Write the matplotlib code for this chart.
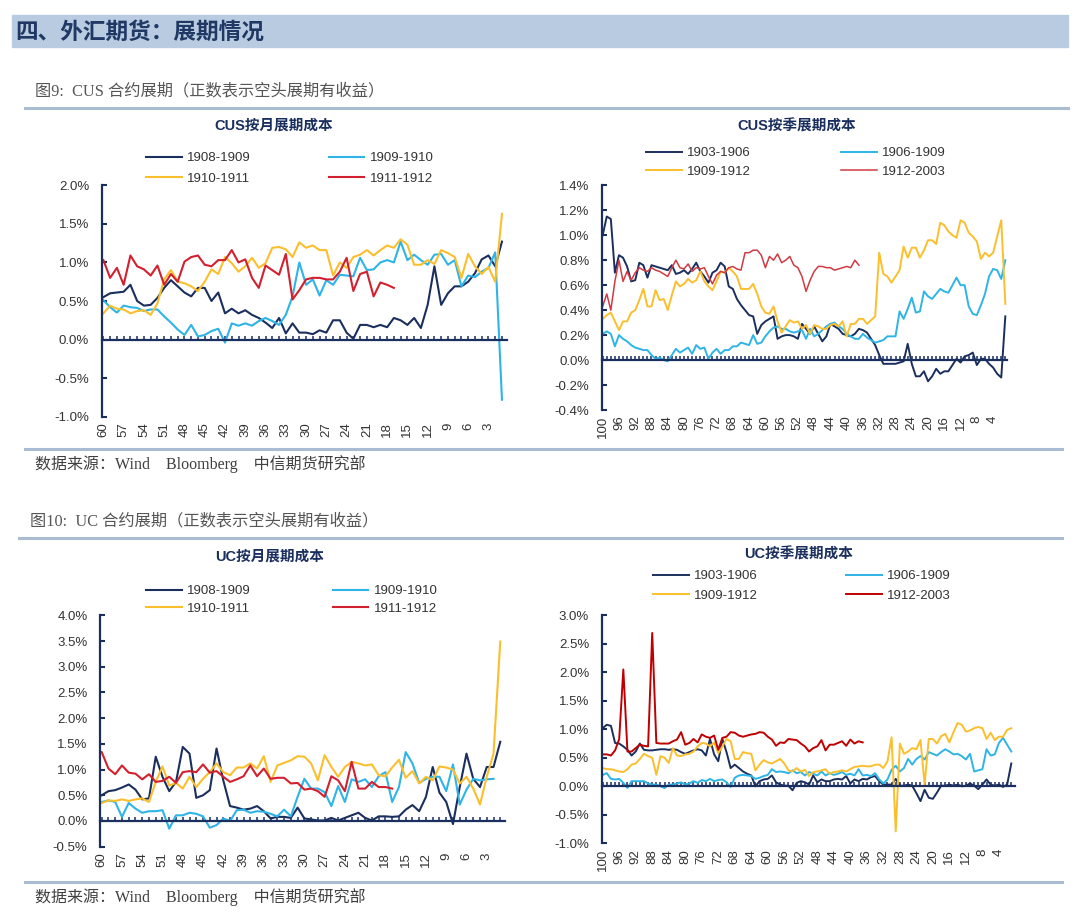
import matplotlib
matplotlib.use('Agg')
import matplotlib.pyplot as plt
from matplotlib.patches import Rectangle
from matplotlib.lines import Line2D
from matplotlib.ticker import MultipleLocator, FuncFormatter

plt.rcParams['font.family'] = ['Liberation Sans', 'Noto Sans CJK SC']
plt.rcParams['axes.unicode_minus'] = False

# ---- data (percent) ----
months = list(range(60, 0, -1))      # 60 .. 1
quarters = list(range(100, 0, -1))   # 100 .. 1
month_labels = list(range(60, 0, -3))
quarter_labels = list(range(100, 0, -4))

cus_m_0809 = [0.55, 0.60, 0.61, 0.62, 0.71, 0.50, 0.44, 0.45, 0.54, 0.67,
              0.77, 0.69, 0.61, 0.56, 0.67, 0.67, 0.50, 0.61, 0.34, 0.40,
              0.34, 0.38, 0.32, 0.28, 0.22, 0.15, 0.28, 0.08, 0.21, 0.09,
              0.09, 0.07, 0.12, 0.09, 0.25, 0.25, 0.09, 0.01, 0.19, 0.19,
              0.16, 0.19, 0.16, 0.28, 0.25, 0.19, 0.28, 0.15, 0.45, 0.95,
              0.45, 0.60, 0.69, 0.69, 0.75, 0.86, 1.04, 1.09, 0.95, 1.27]
cus_m_0910 = [0.51, 0.42, 0.35, 0.44, 0.42, 0.41, 0.37, 0.39, 0.39, 0.30,
              0.22, 0.13, 0.06, 0.19, 0.04, 0.06, 0.11, 0.14, -0.04, 0.21,
              0.18, 0.21, 0.18, 0.24, 0.28, 0.24, 0.19, 0.32, 0.56, 1.00,
              0.71, 0.78, 0.57, 0.77, 0.71, 0.84, 0.83, 0.82, 1.06, 0.90,
              0.91, 1.00, 1.03, 1.00, 1.27, 1.03, 1.10, 1.03, 0.97, 1.10,
              1.11, 0.97, 1.03, 0.69, 0.83, 0.81, 0.88, 0.93, 1.13, -0.78]
cus_m_1011 = [0.34, 0.44, 0.40, 0.39, 0.34, 0.37, 0.38, 0.32, 0.47, 0.78,
              0.90, 0.75, 0.73, 0.69, 0.63, 0.75, 0.91, 0.85, 1.07, 0.99,
              0.88, 0.95, 1.06, 0.93, 0.99, 1.19, 1.20, 1.17, 1.07, 1.26,
              1.19, 1.22, 1.16, 1.16, 0.83, 1.00, 0.93, 1.07, 1.10, 1.16,
              1.09, 1.16, 1.22, 1.19, 1.30, 1.23, 0.97, 0.97, 1.03, 0.98,
              1.16, 1.12, 1.07, 0.80, 1.11, 0.95, 0.85, 0.94, 0.75, 1.63]
cus_m_1112 = [1.03, 0.80, 0.93, 0.71, 1.09, 0.95, 0.91, 0.83, 0.96, 0.71,
              0.85, 0.75, 1.01, 1.07, 1.09, 0.97, 0.95, 1.03, 1.03, 1.16,
              1.00, 1.04, 0.80, 0.67, 0.96, 0.90, 0.84, 1.11, 0.52, 0.64,
              0.78, 0.80, 0.80, 0.78, 0.78, 0.88, 1.06, 0.63, 0.85, 0.88,
              0.56, 0.74, 0.71, 0.67]

cus_q_0306 = [1.00, 1.15, 1.13, 0.70, 0.84, 0.82, 0.75, 0.63, 0.64, 0.78,
              0.76, 0.66, 0.76, 0.75, 0.74, 0.73, 0.72, 0.76, 0.69, 0.70,
              0.72, 0.69, 0.73, 0.78, 0.71, 0.67, 0.62, 0.70, 0.72, 0.78,
              0.75, 0.59, 0.57, 0.49, 0.44, 0.40, 0.36, 0.35, 0.21, 0.28,
              0.31, 0.33, 0.35, 0.17, 0.19, 0.20, 0.20, 0.19, 0.17, 0.29,
              0.25, 0.21, 0.27, 0.21, 0.15, 0.19, 0.29, 0.27, 0.25, 0.21,
              0.20, 0.19, 0.21, 0.25, 0.24, 0.22, 0.17, 0.12, 0.04, -0.03,
              -0.03, -0.03, -0.03, -0.02, -0.01, 0.13, -0.03, -0.13, -0.13, -0.09,
              -0.17, -0.13, -0.07, -0.11, -0.09, -0.09, -0.04, 0.01, -0.02, 0.03,
              0.04, 0.06, -0.04, 0.01, 0.01, -0.03, -0.06, -0.11, -0.14, 0.35]
cus_q_0609 = [0.21, 0.23, 0.21, 0.11, 0.20, 0.17, 0.15, 0.12, 0.10, 0.09,
              0.08, 0.08, 0.04, 0.01, 0.02, 0.00, -0.01, 0.04, 0.09, 0.06,
              0.08, 0.10, 0.05, 0.12, 0.09, 0.10, 0.01, 0.06, 0.09, 0.05,
              0.08, 0.08, 0.11, 0.11, 0.14, 0.13, 0.12, 0.20, 0.13, 0.14,
              0.19, 0.23, 0.26, 0.27, 0.25, 0.25, 0.23, 0.22, 0.23, 0.24,
              0.17, 0.25, 0.19, 0.21, 0.24, 0.27, 0.29, 0.30, 0.27, 0.25,
              0.21, 0.19, 0.17, 0.17, 0.21, 0.18, 0.16, 0.14, 0.15, 0.16,
              0.19, 0.19, 0.19, 0.39, 0.33, 0.41, 0.50, 0.38, 0.39, 0.55,
              0.51, 0.49, 0.53, 0.57, 0.55, 0.54, 0.60, 0.66, 0.60, 0.60,
              0.43, 0.37, 0.36, 0.44, 0.53, 0.67, 0.73, 0.72, 0.65, 0.80]
cus_q_0912 = [0.33, 0.36, 0.38, 0.31, 0.24, 0.31, 0.31, 0.38, 0.40, 0.48,
              0.57, 0.43, 0.43, 0.56, 0.48, 0.49, 0.40, 0.52, 0.63, 0.59,
              0.61, 0.65, 0.62, 0.64, 0.71, 0.63, 0.59, 0.56, 0.63, 0.71,
              0.70, 0.74, 0.71, 0.67, 0.57, 0.57, 0.57, 0.61, 0.53, 0.43,
              0.38, 0.37, 0.43, 0.31, 0.22, 0.27, 0.32, 0.30, 0.31, 0.25,
              0.28, 0.21, 0.28, 0.27, 0.25, 0.25, 0.28, 0.29, 0.27, 0.31,
              0.19, 0.29, 0.29, 0.33, 0.33, 0.29, 0.32, 0.35, 0.86, 0.69,
              0.67, 0.62, 0.67, 0.72, 0.91, 0.82, 0.90, 0.90, 0.82, 0.88,
              0.96, 0.96, 0.93, 1.10, 1.08, 1.03, 1.00, 0.98, 1.12, 1.10,
              1.02, 0.99, 0.95, 0.81, 0.86, 0.83, 0.86, 0.99, 1.12, 0.45]
cus_q_1203 = [0.43, 0.53, 0.40, 0.63, 0.80, 0.63, 0.71, 0.64, 0.70, 0.74,
              0.72, 0.71, 0.74, 0.72, 0.71, 0.69, 0.67, 0.74, 0.80, 0.74,
              0.73, 0.77, 0.71, 0.74, 0.73, 0.74, 0.67, 0.61, 0.68, 0.71,
              0.70, 0.74, 0.75, 0.73, 0.72, 0.86, 0.86, 0.88, 0.88, 0.84,
              0.74, 0.83, 0.80, 0.85, 0.78, 0.80, 0.83, 0.76, 0.74, 0.67,
              0.55, 0.64, 0.71, 0.75, 0.75, 0.74, 0.74, 0.72, 0.73, 0.74,
              0.75, 0.74, 0.80, 0.76]

uc_m_0809 = [0.50, 0.58, 0.60, 0.65, 0.71, 0.61, 0.42, 0.44, 1.25, 0.86,
             0.58, 0.76, 1.44, 1.31, 0.45, 0.50, 0.60, 1.41, 0.79, 0.29,
             0.26, 0.22, 0.24, 0.29, 0.19, 0.05, 0.08, 0.08, 0.06, 0.26,
             0.05, 0.03, 0.01, 0.01, 0.06, 0.01, 0.06, 0.11, 0.16, 0.06,
             0.01, 0.09, 0.09, 0.08, 0.09, 0.22, 0.31, 0.19, 0.47, 1.05,
             0.55, 0.37, -0.06, 0.66, 1.31, 0.82, 0.66, 1.05, 1.05, 1.54]
uc_m_0910 = [0.37, 0.40, 0.37, 0.08, 0.35, 0.24, 0.16, 0.19, 0.19, 0.21,
             -0.15, 0.11, 0.11, 0.16, 0.14, 0.09, -0.13, -0.08, 0.05, 0.00,
             0.21, 0.22, 0.16, 0.19, 0.18, 0.14, 0.09, 0.22, 0.09, 0.47,
             0.82, 0.63, 0.63, 0.56, 0.29, 0.68, 0.37, 0.81, 0.76, 0.81,
             0.66, 0.87, 0.95, 0.37, 0.66, 1.34, 1.12, 0.74, 0.82, 0.86,
             0.86, 0.58, 1.10, 0.32, 0.61, 0.82, 0.79, 0.81, 0.82]
uc_m_1011 = [0.35, 0.40, 0.39, 0.42, 0.39, 0.42, 0.44, 0.37, 0.76, 1.06,
             0.69, 0.74, 0.63, 0.86, 0.66, 0.82, 0.95, 1.12, 0.95, 0.89,
             1.04, 1.04, 1.12, 1.02, 1.26, 0.76, 1.08, 1.13, 1.18, 1.26,
             1.25, 1.12, 0.79, 1.28, 1.05, 0.86, 1.05, 1.15, 1.12, 1.08,
             1.10, 0.89, 0.87, 1.04, 1.19, 0.84, 0.97, 0.73, 0.86, 0.79,
             1.06, 1.04, 1.00, 0.73, 0.86, 0.63, 0.32, 0.86, 1.31, 3.49]
uc_m_1112 = [1.34, 1.02, 0.91, 1.08, 0.94, 0.92, 0.81, 0.91, 0.76, 0.78,
             0.86, 0.74, 0.95, 0.97, 0.95, 1.10, 0.94, 0.97, 0.86, 0.76,
             0.81, 0.87, 1.08, 0.87, 1.02, 0.82, 0.84, 0.84, 0.73, 0.74,
             0.61, 0.63, 0.58, 0.47, 0.87, 0.79, 0.58, 1.15, 0.63, 0.63,
             0.76, 0.66, 0.66, 0.63]

uc_q_0306 = [1.02, 1.08, 1.06, 0.76, 0.75, 0.70, 0.64, 0.54, 0.61, 0.75,
             0.64, 0.63, 0.63, 0.64, 0.65, 0.65, 0.64, 0.65, 0.64, 0.60,
             0.57, 0.60, 0.63, 0.65, 0.63, 0.54, 0.83, 0.56, 0.44, 0.83,
             0.60, 0.32, 0.38, 0.32, 0.26, 0.22, 0.19, 0.00, 0.09, 0.12,
             0.13, 0.19, 0.07, 0.03, 0.01, 0.01, -0.07, 0.06, 0.09, 0.07,
             0.03, 0.19, 0.07, 0.12, 0.09, 0.09, 0.12, 0.13, 0.12, 0.18,
             0.05, 0.12, 0.09, 0.13, 0.12, 0.16, 0.18, 0.09, 0.03, 0.03,
             0.03, 0.13, 0.01, 0.01, 0.03, 0.01, -0.12, -0.26, -0.06, -0.20,
             -0.22, -0.11, 0.01, 0.01, 0.03, 0.01, 0.03, 0.00, 0.01, 0.05,
             0.01, -0.05, 0.03, 0.12, 0.03, 0.01, 0.03, -0.01, 0.03, 0.40]
uc_q_0609 = [0.20, 0.23, 0.13, 0.12, 0.13, 0.06, -0.03, 0.09, 0.09, 0.09,
             0.09, 0.05, 0.03, 0.03, 0.00, -0.03, 0.03, 0.03, 0.05, 0.07,
             0.03, 0.05, 0.09, 0.06, 0.11, 0.09, 0.13, 0.09, 0.11, 0.12,
             0.07, -0.01, 0.15, 0.19, 0.20, 0.19, 0.18, 0.13, 0.15, 0.18,
             0.20, 0.30, 0.25, 0.26, 0.25, 0.23, 0.28, 0.23, 0.25, 0.19,
             0.25, 0.22, 0.19, 0.26, 0.19, 0.23, 0.20, 0.22, 0.25, 0.20,
             0.22, 0.19, 0.30, 0.19, 0.20, 0.18, 0.23, 0.12, 0.05, 0.12,
             0.29, 0.36, 0.26, 0.32, 0.48, 0.38, 0.48, 0.53, 0.47, 0.60,
             0.57, 0.54, 0.60, 0.65, 0.61, 0.56, 0.57, 0.53, 0.47, 0.57,
             0.26, 0.28, 0.30, 0.65, 0.54, 0.56, 0.76, 0.85, 0.73, 0.61]
uc_q_0912 = [0.32, 0.30, 0.30, 0.28, 0.26, 0.25, 0.30, 0.38, 0.40, 0.48,
             0.57, 0.53, 0.50, 0.20, 0.53, 0.50, 0.41, 0.67, 0.54, 0.53,
             0.56, 0.57, 0.61, 0.70, 0.76, 0.75, 0.70, 0.77, 0.58, 0.70,
             0.83, 0.79, 0.48, 0.48, 0.60, 0.58, 0.57, 0.28, 0.38, 0.46,
             0.42, 0.40, 0.44, 0.48, 0.40, 0.28, 0.26, 0.32, 0.26, 0.29,
             0.18, 0.25, 0.26, 0.28, 0.30, 0.22, 0.25, 0.26, 0.28, 0.26,
             0.30, 0.34, 0.35, 0.36, 0.35, 0.35, 0.38, 0.38, 0.32, 0.44,
             0.86, -0.79, 0.75, 0.57, 0.61, 0.67, 0.65, 0.81, 0.03, 0.83,
             0.83, 0.75, 0.88, 0.92, 0.77, 0.95, 1.11, 1.08, 0.96, 0.98,
             1.02, 1.04, 1.02, 0.83, 0.94, 0.81, 0.87, 0.87, 0.99, 1.02]
uc_q_1203 = [0.56, 0.56, 0.54, 0.63, 0.83, 2.05, 0.61, 0.61, 0.67, 0.73,
             0.71, 0.70, 2.69, 0.76, 0.75, 0.75, 0.75, 0.79, 0.82, 0.95,
             0.73, 0.76, 0.83, 0.77, 0.91, 0.87, 0.85, 0.89, 0.64, 0.85,
             0.87, 0.95, 0.94, 0.89, 0.87, 0.89, 0.91, 0.92, 0.95, 0.94,
             0.87, 0.82, 0.71, 0.77, 0.76, 0.83, 0.82, 0.81, 0.75, 0.70,
             0.61, 0.67, 0.70, 0.81, 0.63, 0.73, 0.73, 0.76, 0.79, 0.71,
             0.82, 0.75, 0.79, 0.77]

# ---- style ----
NAVY = '#1b2f5e'
BLUE = '#2eb4e6'
GOLD = '#fbbf2d'
RED = '#d2202e'
DARKRED = '#c00000'
RULE = '#a9bcd2'
BANNER = '#b8cbe0'
GREY = '#555555'
TICK = '#333333'
SERIF = ['Liberation Serif', 'Noto Sans CJK SC']

W, H = 1080, 919
fig = plt.figure(figsize=(W / 100, H / 100), dpi=100)


def fx(x):
    return x / W


def fy(y):
    return 1 - y / H


def rect(l, r, t, b):
    return [fx(l), fy(b), (r - l) / W, (b - t) / H]


def panel(box, xs, series, xlim, ylim, ystep, labels, title, title_pos,
          leg_pos, colspace, labspace):
    ax = fig.add_axes(rect(*box))
    for vals, name, color, lw in series:
        ax.plot(xs[:len(vals)], vals, color=color, lw=lw, label=name,
                solid_joinstyle='round')
    ax.set_xlim(*xlim)
    ax.set_ylim(*ylim)
    ax.yaxis.set_major_locator(MultipleLocator(ystep))
    ax.yaxis.set_major_formatter(
        FuncFormatter(lambda v, _: f'{round(v, 6) + 0.0:.1f}%'))
    for s in ('top', 'right'):
        ax.spines[s].set_visible(False)
    ax.spines['left'].set_color(NAVY)
    ax.spines['left'].set_linewidth(1.6)
    ax.spines['bottom'].set_position(('data', 0))
    ax.spines['bottom'].set_color(NAVY)
    ax.spines['bottom'].set_linewidth(1.6)
    ax.set_xticks(xs)
    ax.tick_params(axis='x', direction='in', length=3.2, width=1.1,
                   color=NAVY, labelbottom=False)
    ax.tick_params(axis='y', direction='in', length=3.5, width=1.5,
                   color=NAVY, labelsize=9.5, labelcolor=TICK, pad=9)
    sec = ax.secondary_xaxis('bottom')
    sec.spines['bottom'].set_visible(False)
    sec.set_xticks(labels)
    sec.tick_params(length=0, labelsize=9.5, labelcolor=TICK, pad=4,
                    rotation=90)
    h, l = ax.get_legend_handles_labels()
    order = [0, 2, 1, 3]
    ax.legend([h[i] for i in order], [l[i] for i in order], ncol=2,
              loc='center', bbox_to_anchor=(fx(leg_pos[0]), fy(leg_pos[1])),
              bbox_transform=fig.transFigure, frameon=False, fontsize=9.5,
              labelcolor=TICK, handlelength=2.7, handletextpad=0.4,
              columnspacing=colspace, labelspacing=labspace,
              borderpad=0, borderaxespad=0)
    fig.text(fx(title_pos[0]), fy(title_pos[1]), title, ha='center',
             va='center', fontsize=10.5, fontweight='bold', color=NAVY)
    return ax


# ---- page decoration ----
fig.patches.append(Rectangle((fx(12), fy(47)), (1068 - 12) / W, 32 / H,
                             transform=fig.transFigure, color=BANNER,
                             zorder=0))
fig.text(fx(15), fy(32), '四、外汇期货：展期情况', fontsize=16.3,
         fontweight='bold', color='#1f3864', va='center',
         family=['Noto Sans CJK SC'])

for y, x0, x1 in [(108, 25, 1068), (449, 25, 1062), (538, 19, 1062),
                  (882, 25, 1062)]:
    fig.add_artist(Line2D([fx(x0), fx(x1)], [fy(y), fy(y)], lw=2.2,
                          color=RULE, transform=fig.transFigure))

fig.text(fx(35), fy(91), '图9:  CUS 合约展期（正数表示空头展期有收益）',
         fontsize=11.7, color=GREY, va='center', family=SERIF)
fig.text(fx(35), fy(464), '数据来源：Wind    Bloomberg    中信期货研究部',
         fontsize=11.5, color='#404040', va='center', family=SERIF)
fig.text(fx(30), fy(521), '图10:  UC 合约展期（正数表示空头展期有收益）',
         fontsize=11.7, color=GREY, va='center', family=SERIF)
fig.text(fx(35), fy(897), '数据来源：Wind    Bloomberg    中信期货研究部',
         fontsize=11.5, color='#404040', va='center', family=SERIF)

# ---- panels ----
panel((101.7, 506.7, 185.3, 416.7), months,
      [(cus_m_0809, '1908-1909', NAVY, 1.5),
       (cus_m_0910, '1909-1910', BLUE, 1.5),
       (cus_m_1011, '1910-1911', GOLD, 1.5),
       (cus_m_1112, '1911-1912', RED, 1.5)],
      (60.25, 0.3), (-1.0, 2.0), 0.5, month_labels,
      'CUS按月展期成本', (274, 126), (290, 168.5), 5.9, 0.62)

panel((602, 1006.7, 185.3, 410), quarters,
      [(cus_q_0306, '1903-1906', NAVY, 1.4),
       (cus_q_0609, '1906-1909', BLUE, 1.4),
       (cus_q_0912, '1909-1912', GOLD, 1.4),
       (cus_q_1203, '1912-2003', '#d03a42', 1.1)],
      (100.17, 0.66), (-0.4, 1.4), 0.2, quarter_labels,
      'CUS按季展期成本', (797, 126), (796, 162.5), 6.8, 0.48)

panel((100, 505, 615.3, 846.7), months,
      [(uc_m_0809, '1908-1909', NAVY, 1.5),
       (uc_m_0910, '1909-1910', BLUE, 1.5),
       (uc_m_1011, '1910-1911', GOLD, 1.5),
       (uc_m_1112, '1911-1912', RED, 1.5)],
      (60.25, 0.3), (-0.5, 4.0), 0.5, month_labels,
      'UC按月展期成本', (270, 557), (292, 600), 6.2, 0.40)

panel((601.7, 1015, 615.3, 843.3), quarters,
      [(uc_q_0306, '1903-1906', NAVY, 1.4),
       (uc_q_0609, '1906-1909', BLUE, 1.4),
       (uc_q_0912, '1909-1912', GOLD, 1.4),
       (uc_q_1203, '1912-2003', DARKRED, 1.4)],
      (100.24, 0.1), (-1.0, 3.0), 0.5, quarter_labels,
      'UC按季展期成本', (799, 554), (802, 586), 6.7, 0.55)

fig.savefig('out.png', dpi=100)
